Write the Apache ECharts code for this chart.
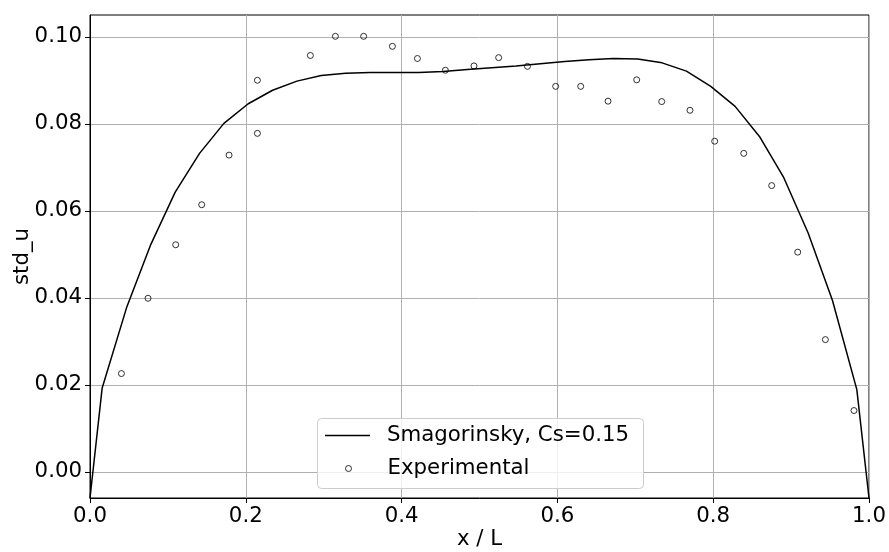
<!DOCTYPE html>
<html>
<head>
<meta charset="utf-8">
<script src="https://cdn.jsdelivr.net/npm/echarts@6/dist/echarts.min.js"></script>
<style>
html,body{margin:0;padding:0;background:#fff;}
#chart{width:889px;height:552px;}
</style>
</head>
<body>
<div id="chart"></div>
<script>
// Simulation curve (Smagorinsky, Cs=0.15)
var simX = [0, 0.015625, 0.046875, 0.078125, 0.109375, 0.140625, 0.171875, 0.203125, 0.234375,
  0.265625, 0.296875, 0.328125, 0.359375, 0.390625, 0.421875, 0.453125, 0.484375,
  0.515625, 0.546875, 0.578125, 0.609375, 0.640625, 0.671875, 0.703125, 0.734375,
  0.765625, 0.796875, 0.828125, 0.859375, 0.890625, 0.921875, 0.953125, 0.984375, 1];
var simY = [-0.006, 0.0193, 0.0377, 0.0523, 0.0643, 0.0732, 0.0801, 0.0846, 0.0877,
  0.0898, 0.0911, 0.0916, 0.0918, 0.0918, 0.0918, 0.0920, 0.0925,
  0.0929, 0.0933, 0.0938, 0.0943, 0.0947, 0.0950, 0.0949, 0.0940,
  0.0921, 0.0886, 0.0840, 0.0771, 0.0676, 0.0549, 0.0394, 0.0189, -0.006];

// Experimental points
var expX = [0.0403, 0.0745, 0.110, 0.1434, 0.1785, 0.2149, 0.2149, 0.2829, 0.315, 0.3513,
  0.3882, 0.4203, 0.4562, 0.4929, 0.5246, 0.5615, 0.5978, 0.6299, 0.665, 0.7018,
  0.7339, 0.7702, 0.8019, 0.8392, 0.8751, 0.9085, 0.944, 0.9807];
var expY = [0.0226, 0.0399, 0.0522, 0.0614, 0.0728, 0.0900, 0.0778, 0.0957, 0.1001, 0.1001,
  0.0978, 0.0950, 0.0923, 0.0933, 0.0952, 0.0932, 0.0886, 0.0886, 0.0852, 0.0901,
  0.0851, 0.0831, 0.0760, 0.0732, 0.0658, 0.0505, 0.0304, 0.0141];

var yTicks = [0, 0.02, 0.04, 0.06, 0.08, 0.10];
var xTicks = [0, 0.2, 0.4, 0.6, 0.8, 1.0];

var simName = 'Smagorinsky, Cs=0.15';
var expName = 'Experimental';

function zip(a, b) { return a.map(function (v, i) { return [v, b[i]]; }); }

var FONT = 'DejaVu Sans';
var FS = 21.3;
var chart = echarts.init(document.getElementById('chart'), null, { renderer: 'canvas' });

chart.setOption({
  backgroundColor: '#ffffff',
  animation: false,
  textStyle: { fontFamily: FONT, color: '#000' },
  grid: { left: 90, right: 20, top: 15, bottom: 54, show: true, borderColor: '#000', borderWidth: 1,
    backgroundColor: 'transparent', containLabel: false, outerBoundsMode: 'none' },
  xAxis: {
    type: 'value', min: 0, max: 1, interval: 0.2,
    name: 'x / L', nameLocation: 'middle', nameGap: 31, nameMoveOverlap: false,
    nameTextStyle: { fontFamily: FONT, fontSize: FS, color: '#000' },
    axisLine: { show: true, onZero: false, lineStyle: { color: '#000', width: 1 } },
    axisTick: { show: true, inside: false, length: 5, lineStyle: { color: '#000' }, customValues: xTicks },
    axisLabel: { fontFamily: FONT, fontSize: FS, color: '#000', margin: 8, customValues: xTicks,
      formatter: function (v) { return v.toFixed(1); } },
    splitLine: { show: true, lineStyle: { color: '#b0b0b0', width: 1 } }
  },
  yAxis: {
    type: 'value', min: -0.006, max: 0.105,
    name: 'std_u', nameLocation: 'middle', nameGap: 57, nameMoveOverlap: false,
    nameTextStyle: { fontFamily: FONT, fontSize: FS, color: '#000' },
    axisLine: { show: true, onZero: false, lineStyle: { color: '#000', width: 1 } },
    axisTick: { show: true, inside: false, length: 5, lineStyle: { color: '#000' }, customValues: yTicks },
    axisLabel: { fontFamily: FONT, fontSize: FS, color: '#000', margin: 8, customValues: yTicks,
      formatter: function (v) { return v.toFixed(2); } },
    splitLine: { show: true, lineStyle: { color: '#b0b0b0', width: 1 } }
  },
  graphic: [{
    type: 'rect', z: 3, left: 317, top: 418,
    shape: { width: 326, height: 70, r: 4 },
    style: { fill: 'rgba(255,255,255,0.8)', stroke: '#cccccc', lineWidth: 1 }
  }],
  legend: [{
    data: [{ name: simName, icon: 'rect', itemStyle: { color: '#000' } }],
    left: 325, top: 425, itemWidth: 45, itemHeight: 1.5, padding: 0,
    textStyle: { fontFamily: FONT, fontSize: FS, color: '#000', padding: [0, 0, 0, 12] },
    z: 5
  }, {
    data: [{ name: expName, icon: 'circle', itemStyle: { color: 'transparent', borderColor: '#000', borderWidth: 1 } }],
    left: 345, top: 458, itemWidth: 6, itemHeight: 6, padding: 0,
    textStyle: { fontFamily: FONT, fontSize: FS, color: '#000', padding: [0, 0, 0, 31] },
    z: 5
  }],
  series: [{
    name: simName, type: 'line', data: zip(simX, simY),
    showSymbol: false, symbol: 'none', smooth: false, clip: true,
    lineStyle: { color: '#000', width: 1.5 }, itemStyle: { color: '#000' }, z: 2
  }, {
    name: expName, type: 'scatter', data: zip(expX, expY),
    symbol: 'circle', symbolSize: 6,
    itemStyle: { color: 'transparent', borderColor: '#000', borderWidth: 1 }, z: 3
  }]
});
</script>
</body>
</html>
